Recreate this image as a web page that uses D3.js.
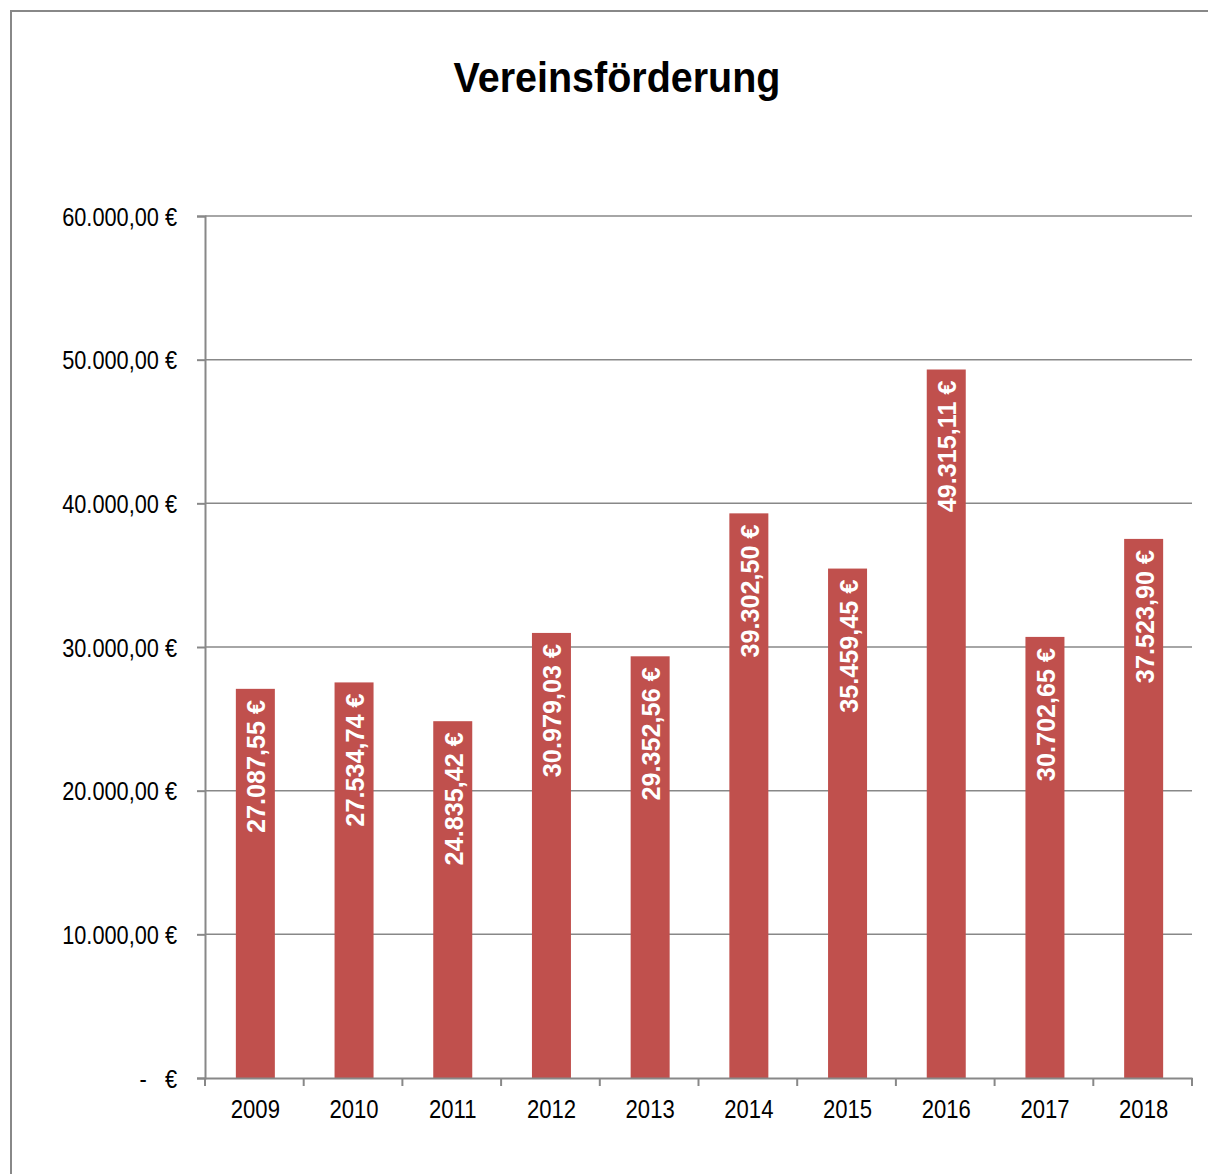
<!DOCTYPE html>
<html>
<head>
<meta charset="utf-8">
<script src="https://cdn.jsdelivr.net/npm/d3@7"></script>
<style>
  body { margin: 0; background: #fff; }
  svg text { font-family: "Liberation Sans Narrow", "Liberation Sans", Arial, sans-serif; }
</style>
</head>
<body>
<div id="chart"></div>
<script>
// Chart data
const years = ["2009", "2010", "2011", "2012", "2013", "2014", "2015", "2016", "2017", "2018"];
const amounts = [27087.55, 27534.74, 24835.42, 30979.03, 29352.56, 39302.50, 35459.45, 49315.11, 30702.65, 37523.90];
const yTicks = [0, 10000, 20000, 30000, 40000, 50000, 60000];

const WIDTH = 1208;
const HEIGHT = 1174;
const MARGIN = { left: 205, right: 16, top: 216, bottom: 96 };

const svg = d3.select("#chart")
  .append("svg")
  .attr("width", WIDTH)
  .attr("height", HEIGHT);

// outer frame
svg.append("rect")
  .attr("x", 11).attr("y", 11)
  .attr("width", WIDTH + 20).attr("height", HEIGHT + 20)
  .attr("fill", "none")
  .attr("stroke", "#888")
  .attr("stroke-width", 2);

// title (squeezed to look like a narrow font)
svg.append("text")
  .attr("transform", "translate(617,92) scale(0.94,1)")
  .attr("text-anchor", "middle")
  .style("font-size", "42px")
  .style("font-weight", "bold")
  .text("Vereinsförderung");

const x = d3.scaleBand()
  .domain(years)
  .range([MARGIN.left, WIDTH - MARGIN.right]);

const y = d3.scaleLinear()
  .domain([0, 60000])
  .range([HEIGHT - MARGIN.bottom, MARGIN.top]);

const euro = d3.formatLocale({ decimal: ",", thousands: ".", grouping: [3], currency: ["", " €"] });
const fmt = euro.format(",.2f");

// grid lines
svg.append("g")
  .selectAll("line")
  .data(yTicks.filter(d => d > 0))
  .join("line")
  .attr("x1", MARGIN.left)
  .attr("x2", WIDTH - MARGIN.right)
  .attr("y1", d => y(d))
  .attr("y2", d => y(d))
  .attr("stroke", "#888")
  .attr("stroke-width", 1.5);

// bars
const barW = 39;
svg.append("g")
  .selectAll("rect")
  .data(years)
  .join("rect")
  .attr("x", (d) => x(d) + x.bandwidth() / 2 - barW / 2 + 1)
  .attr("y", (d, i) => y(amounts[i]))
  .attr("width", barW)
  .attr("height", (d, i) => y(0) - y(amounts[i]))
  .attr("fill", "#c0504d");

// value labels inside bars
svg.append("g")
  .selectAll("text")
  .data(years)
  .join("text")
  .attr("transform", (d, i) => "translate(" + (x(d) + x.bandwidth() / 2 + 11) + "," + (y(amounts[i]) + 11) + ") rotate(-90) scale(0.97,1)")
  .attr("text-anchor", "end")
  .attr("fill", "#fff")
  .style("font-size", "26px")
  .style("font-weight", "bold")
  .text((d, i) => fmt(amounts[i]) + " €");

// y axis
const ySx = 0.87;
const yAxis = svg.append("g")
  .attr("transform", "translate(" + MARGIN.left + ",0)")
  .call(d3.axisLeft(y).tickValues(yTicks).tickSize(8).tickPadding(20)
    .tickFormat(d => d === 0 ? "-   €" : fmt(d) + " €"));
yAxis.select(".domain").attr("stroke", "#888").attr("stroke-width", 2);
yAxis.selectAll(".tick line").attr("stroke", "#888").attr("stroke-width", 2);
yAxis.selectAll(".tick text")
  .attr("fill", "#000")
  .style("font-size", "25px")
  .style("white-space", "pre")
  .attr("xml:space", "preserve")
  .attr("x", -28 / ySx)
  .attr("dy", "0.36em")
  .attr("transform", "scale(" + ySx + ",1)");

// x axis
const xSx = 0.85;
const xAxis = svg.append("g")
  .attr("transform", "translate(0," + y(0) + ")")
  .call(d3.axisBottom(x).tickSize(0).tickPadding(22));
xAxis.select(".domain").attr("stroke", "#888").attr("stroke-width", 2);
xAxis.selectAll(".tick text")
  .attr("fill", "#000")
  .style("font-size", "26px")
  .attr("transform", "scale(" + xSx + ",1)");
xAxis.selectAll(".tick").each(function () {
  // keep the label centred after the squeeze
  const t = d3.select(this);
  const m = /translate\(([-\d.]+)/.exec(t.attr("transform"));
  const cx = +m[1] + 1;
  t.attr("transform", "translate(" + cx + ",0)");
});

// category boundary ticks
svg.append("g")
  .selectAll("line")
  .data(years.concat(["end"]))
  .join("line")
  .attr("x1", (d, i) => i < years.length ? x(d) : x.range()[1])
  .attr("x2", (d, i) => i < years.length ? x(d) : x.range()[1])
  .attr("y1", y(0))
  .attr("y2", y(0) + 8)
  .attr("stroke", "#888")
  .attr("stroke-width", 2);
</script>
</body>
</html>
